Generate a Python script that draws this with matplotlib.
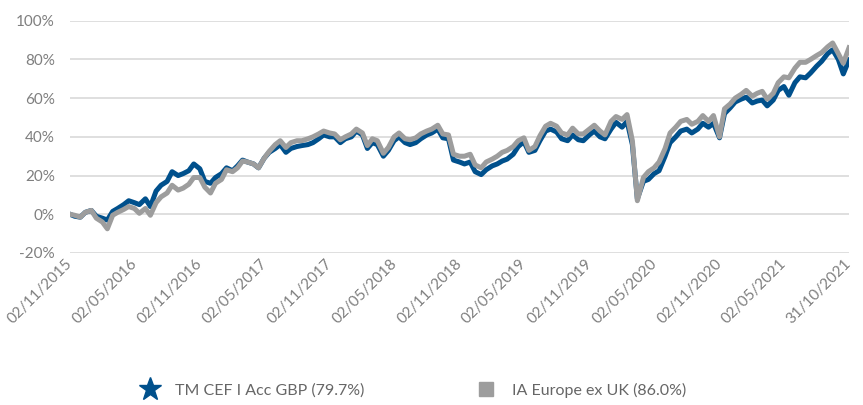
import pandas as pd
import matplotlib.pyplot as plt
import matplotlib.transforms as mtransforms
from matplotlib.lines import Line2D

# Données (performance cumulée, %), points bimensuels
dates = pd.date_range('2015-11-01', '2021-10-15', freq='SMS')
dates = dates.delete(0).insert(0, pd.Timestamp('2015-11-02'))
dates = dates.append(pd.DatetimeIndex([pd.Timestamp('2021-10-31')]))

fund = [0, -1, -1.5, 1, 2, -1, -2, -3, 1.5, 3,
        5, 7, 6, 5, 8, 4, 12, 15, 17, 22,
        20, 21, 22.5, 26, 23.5, 17, 16, 19, 21, 24,
        22.5, 25, 28, 27, 26, 24, 29, 32, 34, 36,
        32, 34, 35, 35.5, 36, 37, 39, 41, 40, 40,
        37, 39, 40, 43, 41, 34, 37, 36, 30, 33,
        38, 40, 37, 36, 37, 39, 41, 42, 44, 39.5,
        39, 28, 27, 26, 27, 22, 20.5, 23, 25, 26,
        27.5, 28.5, 31, 35, 37.5, 32, 33, 38, 43, 44,
        42.5, 39, 38, 41, 38.5, 38, 41, 43, 40, 39,
        44, 47.5, 45, 48, 36, 8, 17, 18, 21, 22.5,
        30, 37, 40, 43, 44, 42, 44, 47, 45, 47,
        39.5, 52, 55, 58, 59.5, 60.5, 57.5, 58.5, 59, 56,
        59, 64, 66, 61.5, 68, 71, 70.5, 73, 76.5, 79,
        83, 85, 80, 72.5, 79.7]

sector = [0, -0.5, -1.5, 1, 2, -2, -4, -7.5, -0.5, 1,
          2.5, 4, 3, 0.5, 3, -0.5, 6, 9, 11, 15,
          12.5, 13.5, 15.5, 19, 19, 14, 11, 16, 18, 23,
          22, 24, 27.5, 27, 26, 24, 29, 32.5, 36, 38,
          34.5, 37, 38, 38, 39, 40, 41.5, 43, 42, 41.5,
          38.5, 40, 41.5, 44, 42, 35.5, 39, 38, 31.5, 34.5,
          40, 42, 39, 38.5, 39.5, 41.5, 43, 44, 46, 41.5,
          41, 31, 30, 30, 31, 25.5, 24, 27, 28.5, 30,
          32, 33, 35, 38, 39.5, 33, 35, 40.5, 45.5, 47,
          45.5, 42, 41, 44.5, 41.5, 41.5, 44, 46, 43, 41,
          48, 50.5, 49, 51.5, 38, 7, 19, 22, 24, 27,
          34, 42, 45, 48, 49, 46.5, 48, 51, 48, 51,
          40, 54.5, 57, 60, 62, 64, 61, 62.5, 63.5, 59.5,
          62.5, 68, 71, 70.5, 75.5, 78.5, 78.5, 80, 82, 83.5,
          86.5, 88.5, 83, 78, 86.0]

tick_labels = ['02/11/2015', '02/05/2016', '02/11/2016', '02/05/2017', '02/11/2017',
               '02/05/2018', '02/11/2018', '02/05/2019', '02/11/2019', '02/05/2020',
               '02/11/2020', '02/05/2021', '31/10/2021']
y_ticks = [-20, 0, 20, 40, 60, 80, 100]

fund_label = 'TM CEF I Acc GBP (79.7%)'
sector_label = 'IA Europe ex UK (86.0%)'

navy = '#00508C'
grey = '#9D9D9D'
text_grey = '#7F7F7F'

plt.rcParams['font.family'] = ['Lato', 'DejaVu Sans']

fig = plt.figure(figsize=(8.63, 4.05), dpi=100)
ax = fig.add_axes([70 / 863, 1 - 253 / 405, 779 / 863, 232.3 / 405])

ax.plot(dates, fund, color=navy, lw=3.6, solid_joinstyle='round', zorder=3)
ax.plot(dates, sector, color=grey, lw=3.6, solid_joinstyle='round', zorder=4)

ax.set_xlim(pd.Timestamp('2015-11-02'), pd.Timestamp('2021-10-31'))
ax.set_ylim(-20, 100)
ax.set_yticks(y_ticks)
ax.set_yticklabels([f'{v}%' for v in y_ticks])
ax.grid(axis='y', color='#D9D9D9', lw=1.2)
ax.set_axisbelow(True)
for s in ax.spines.values():
    s.set_visible(False)

tick_dates = pd.to_datetime(tick_labels, format='%d/%m/%Y')
ax.set_xticks(tick_dates)
ax.set_xticklabels(tick_labels, rotation=45, ha='right', va='center',
                   rotation_mode='anchor')
offset = mtransforms.ScaledTranslation(6 / 100, -3 / 100, fig.dpi_scale_trans)
for lab in ax.get_xticklabels():
    lab.set_transform(lab.get_transform() + offset)

ax.tick_params(axis='both', length=0, labelsize=11, labelcolor=text_grey)
ax.tick_params(axis='y', pad=11)
ax.tick_params(axis='x', pad=6)

handles = [Line2D([], [], ls='none', marker='*', ms=17, color=navy),
           Line2D([], [], ls='none', marker='s', ms=10, color=grey)]
fig.legend(handles, [fund_label, sector_label], loc='center',
           bbox_to_anchor=(410 / 863, 1 - 390 / 405), ncol=2, frameon=False,
           fontsize=11.5, labelcolor='#666666', columnspacing=6.6,
           handletextpad=0.6, handlelength=2.0)

fig.savefig('out.png', dpi=100)
